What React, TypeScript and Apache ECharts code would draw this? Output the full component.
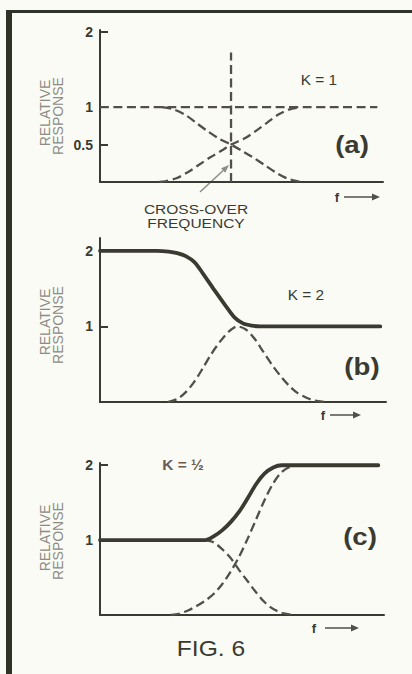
import React, { useEffect, useRef } from "react";
import * as echarts from "echarts";

// ---- data (x in arbitrary frequency units 0..100, y = relative response) ----
const ticksA = [0.5, 1, 2];
const ticksBC = [1, 2];

// panel (a) K = 1
const aFlat = [[0, 1], [98, 1]];
const aHighFall = [[22, 1], [26, 0.97], [30, 0.9], [34, 0.79], [38, 0.68], [42, 0.58], [46.3, 0.5], [50, 0.42], [54, 0.33], [58, 0.23], [62, 0.13], [66, 0.05], [70, 0.01], [72, 0]];
const aLowRise = [[21, 0], [23, 0.01], [27, 0.05], [31, 0.13], [35, 0.23], [39, 0.33], [43, 0.42], [46.3, 0.5], [51, 0.58], [55, 0.68], [59, 0.79], [63, 0.9], [67, 0.97], [71, 1]];
const aCrossLine = [[46.3, 0], [46.3, 1.73]];

// panel (b) K = 2
const bTotal = [[0, 2], [10, 2], [20, 2], [24, 1.99], [27, 1.97], [30, 1.93], [33, 1.85], [36, 1.7], [40, 1.48], [44, 1.27], [47, 1.12], [50, 1.04], [53, 1.01], [56, 1], [77, 1], [98, 1]];
const bBump = [[23.7, 0], [27, 0.04], [30, 0.13], [33, 0.27], [36, 0.45], [39, 0.64], [42, 0.8], [45, 0.93], [48, 1.0], [51, 0.96], [54, 0.84], [57, 0.67], [60, 0.5], [63, 0.35], [66, 0.22], [69, 0.12], [72, 0.06], [75, 0.02], [79, 0]];

// panel (c) K = 1/2
const cTotal = [[0, 1], [18, 1], [34, 1], [37, 1], [40, 1.05], [43, 1.13], [46, 1.24], [49, 1.38], [52, 1.56], [55, 1.75], [58, 1.89], [61, 1.97], [64, 2], [81, 2], [98, 2]];
const cFall = [[37, 1], [40, 0.97], [43, 0.88], [46, 0.76], [49, 0.6], [52, 0.45], [55, 0.3], [58, 0.17], [61, 0.08], [64, 0.03], [68, 0]];
const cRise = [[25, 0], [28, 0.02], [31, 0.06], [34, 0.12], [37, 0.19], [40, 0.28], [43, 0.41], [46, 0.58], [49, 0.78], [52, 1.02], [55, 1.28], [58, 1.54], [61, 1.76], [64, 1.91], [67, 1.98], [70, 2]];

const INK = "#3a3a30";
const DASH = "#505046";
const PALE = "#8c8c84";
const FONT = "'Liberation Sans', Arial, sans-serif";

function txt(x: number, y: number, text: string, size: number, opts: any = {}) {
  return {
    type: "text",
    x,
    y,
    rotation: opts.rotation || 0,
    scaleX: opts.scaleX || 1,
    silent: true,
    style: {
      text,
      fill: opts.fill || INK,
      fontSize: size,
      fontFamily: FONT,
      fontWeight: opts.weight || "normal",
      align: opts.align || "center",
      verticalAlign: "middle",
      lineHeight: opts.lineHeight,
    },
  };
}

function fArrow(fx: number, x1: number, x2: number, y: number) {
  return [
    txt(fx, y, "f", 13, { weight: "bold" }),
    { type: "line", silent: true, shape: { x1, y1: y, x2: x2 - 6, y2: y }, style: { stroke: DASH, lineWidth: 1.5 } },
    { type: "polygon", silent: true, shape: { points: [[x2 - 8, y - 3.5], [x2, y], [x2 - 8, y + 3.5]] }, style: { fill: DASH } },
  ];
}

function yAxis(gridIndex: number, max: number, ticks: number[]) {
  return {
    type: "value",
    gridIndex,
    min: 0,
    max,
    axisLine: { show: true, lineStyle: { color: INK, width: 2 } },
    axisTick: { show: true, inside: true, length: 8, customValues: ticks, lineStyle: { color: INK, width: 2 } },
    axisLabel: { show: true, customValues: ticks, margin: 7, color: INK, fontSize: 14, fontWeight: "bold", fontFamily: FONT },
    splitLine: { show: false },
  };
}

function xAxis(gridIndex: number) {
  return {
    type: "value",
    gridIndex,
    min: 0,
    max: 100,
    axisLine: { show: true, onZero: false, lineStyle: { color: INK, width: 2 } },
    axisTick: { show: false },
    axisLabel: { show: false },
    splitLine: { show: false },
  };
}

function line(idx: number, data: number[][], dashed: boolean) {
  return {
    type: "line",
    xAxisIndex: idx,
    yAxisIndex: idx,
    data,
    smooth: 0.3,
    showSymbol: false,
    silent: true,
    lineStyle: dashed
      ? { color: DASH, width: 2.3, type: [9, 4.5] }
      : { color: INK, width: 3.8, cap: "round", join: "round" },
  };
}

export default function App() {
  const ref = useRef<HTMLDivElement>(null);
  useEffect(() => {
    if (!ref.current) return;
    const chart = echarts.init(ref.current, undefined, { renderer: "svg" });
    const ang = Math.atan2(165 - 192, 229 - 200);
    const tipX = 229, tipY = 165;
    const bx = tipX - 8 * Math.cos(ang), by = tipY - 8 * Math.sin(ang);
    const px = -Math.sin(ang) * 3, py = Math.cos(ang) * 3;
    chart.setOption({
      animation: false,
      backgroundColor: "#fbfbf6",
      grid: [
        { left: 100, right: 29, top: 30, bottom: 492 },
        { left: 100, right: 26, top: 238, bottom: 272 },
        { left: 100, right: 28, top: 463, bottom: 59 },
      ],
      xAxis: [xAxis(0), xAxis(1), xAxis(2)],
      yAxis: [yAxis(0, 2.03, ticksA), yAxis(1, 2.17, ticksBC), yAxis(2, 2.03, ticksBC)],
      series: [
        line(0, aFlat, true),
        line(0, aHighFall, true),
        line(0, aLowRise, true),
        { ...line(0, aCrossLine, true), smooth: false },
        line(1, bBump, true),
        line(1, bTotal, false),
        line(2, cFall, true),
        line(2, cRise, true),
        line(2, cTotal, false),
      ],
      graphic: [
        // frame
        { type: "rect", silent: true, shape: { x: 7, y: 10, width: 405, height: 3 }, style: { fill: "#2f3226" } },
        { type: "rect", silent: true, shape: { x: 6, y: 10, width: 6, height: 664 }, style: { fill: "#2f3226" } },
        // axis titles
        txt(45, 113, "RELATIVE", 14, { rotation: Math.PI / 2, fill: PALE }),
        txt(58, 116, "RESPONSE", 14, { rotation: Math.PI / 2, fill: PALE }),
        txt(45, 322, "RELATIVE", 14, { rotation: Math.PI / 2, fill: PALE }),
        txt(58, 325, "RESPONSE", 14, { rotation: Math.PI / 2, fill: PALE }),
        txt(45, 538, "RELATIVE", 14, { rotation: Math.PI / 2, fill: PALE }),
        txt(58, 541, "RESPONSE", 14, { rotation: Math.PI / 2, fill: PALE }),
        // panel a
        txt(319, 80, "K = 1", 14, { scaleX: 1.1 }),
        txt(352, 145, "(a)", 24, { weight: "bold", scaleX: 1.15 }),
        txt(196, 216, "CROSS-OVER\nFREQUENCY", 13.5, { lineHeight: 14, scaleX: 1.15 }),
        { type: "line", silent: true, shape: { x1: 200, y1: 192, x2: bx, y2: by }, style: { stroke: PALE, lineWidth: 1.5 } },
        { type: "polygon", silent: true, shape: { points: [[bx + px, by + py], [tipX, tipY], [bx - px, by - py]] }, style: { fill: PALE } },
        ...fArrow(337, 344, 380, 197),
        // panel b
        txt(306, 295, "K = 2", 14, { scaleX: 1.1 }),
        txt(362, 367, "(b)", 24, { weight: "bold", scaleX: 1.15 }),
        ...fArrow(323, 330, 361, 415),
        // panel c
        txt(183, 465, "K = ½", 14, { fill: "#6e5a50", weight: "bold", scaleX: 1.1 }),
        txt(360, 537, "(c)", 24, { weight: "bold", scaleX: 1.15 }),
        ...fArrow(314, 325, 359, 628),
        txt(211, 648, "FIG. 6", 22, { scaleX: 1.12 }),
      ],
    });
    return () => chart.dispose();
  }, []);
  return (
    <div
      ref={ref}
      style={{ position: "fixed", left: 0, top: 0, width: 412, height: 674, background: "#fbfbf6" }}
    />
  );
}
